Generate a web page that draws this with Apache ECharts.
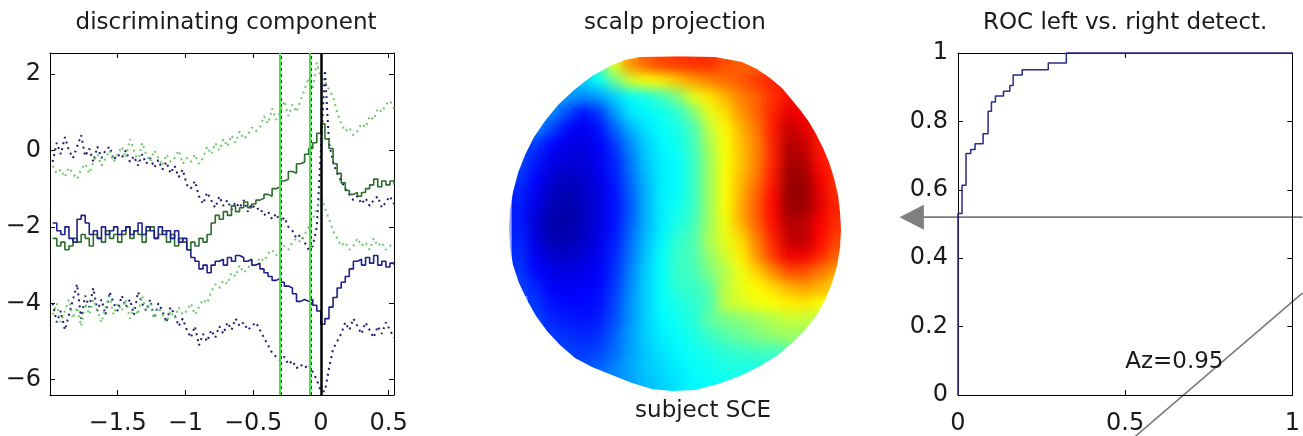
<!DOCTYPE html>
<html>
<head>
<meta charset="utf-8">
<script src="https://cdn.jsdelivr.net/npm/echarts/dist/echarts.min.js"></script>
<style>
html,body{margin:0;padding:0;background:#fff;}
#chart{position:absolute;left:0;top:0;width:1303px;height:436px;}
#scalpWrap{position:absolute;left:492px;top:37px;width:372px;height:374px;
  clip-path:polygon(148px 20px,188px 19px,223px 20px,250px 25px,265px 32px,278px 41px,290px 51px,300px 63px,309px 74px,317px 85px,324px 97px,331px 111px,337px 125px,342px 141px,346px 158px,348px 175px,349px 193px,348px 211px,345px 229px,340px 246px,333px 263px,324px 279px,313px 293px,300px 306px,286px 318px,268px 329px,248px 339px,226px 347px,203px 353px,180px 354px,160px 352px,140px 346px,120px 338px,100px 330px,83px 321px,68px 308px,55px 294px,44px 279px,35px 263px,27px 246px,21px 228px,18px 210px,17px 191px,18px 173px,21px 155px,26px 136px,33px 118px,42px 100px,53px 84px,66px 68px,82px 53px,100px 39px,118px 29px,133px 23px);}
#scalpSharp,#scalpSoft{position:absolute;left:0;top:0;width:372px;height:374px;}
#scalpSoft{filter:blur(6px);}
</style>
</head>
<body>
<div id="chart"></div>
<div id="scalpWrap"><div id="scalpSharp"></div><div id="scalpSoft"></div></div>
<script>
// ---------- left panel: discriminating component ----------
const timeAxis = [-1.98,-1.95,-1.92,-1.89,-1.86,-1.83,-1.80,-1.77,-1.74,-1.71,-1.68,-1.65,-1.62,-1.59,-1.56,-1.53,-1.50,
 -1.47,-1.44,-1.41,-1.38,-1.35,-1.32,-1.29,-1.26,-1.23,-1.20,-1.17,-1.14,-1.11,-1.08,-1.05,-1.02,-0.99,
 -0.96,-0.93,-0.90,-0.87,-0.84,-0.81,-0.78,-0.75,-0.72,-0.69,-0.66,-0.63,-0.60,-0.57,-0.54,-0.51,-0.48,
 -0.45,-0.42,-0.39,-0.36,-0.33,-0.30,-0.27,-0.24,-0.21,-0.18,-0.15,-0.12,-0.09,-0.06,-0.03,0.00,
 0.03,0.06,0.09,0.12,0.15,0.18,0.21,0.24,0.27,0.30,0.33,0.36,0.39,0.42,0.45,0.48,0.51,0.54];

const greenMean = [-2.3,-2.5,-2.4,-2.6,-2.5,-2.3,-2.4,-2.2,-2.3,-2.5,-2.2,-2.3,-2.4,-2.1,-2.3,-2.2,-2.4,
 -2.2,-2.0,-2.3,-2.1,-2.2,-2.4,-2.1,-2.0,-2.3,-2.2,-2.1,-2.4,-2.2,-2.5,-2.3,-2.4,-2.6,
 -2.4,-2.5,-2.3,-2.4,-2.2,-1.9,-1.7,-1.8,-1.6,-1.7,-1.45,-1.6,-1.5,-1.35,-1.5,-1.4,-1.3,
 -1.25,-1.15,-1.2,-1.0,-0.95,-0.8,-0.75,-0.55,-0.6,-0.35,-0.3,-0.1,0.05,0.2,0.45,0.7,
 0.3,0.05,-0.35,-0.6,-0.85,-1.05,-1.15,-1.1,-1.2,-1.1,-1.0,-0.9,-0.75,-0.95,-0.8,-0.9,-0.8,-0.9];

const blueMean = [-1.9,-2.1,-2.2,-2.0,-2.3,-2.4,-1.8,-1.7,-1.9,-2.2,-2.1,-2.3,-2.0,-2.2,-2.1,-2.0,-2.2,
 -2.1,-2.0,-2.2,-2.1,-1.9,-2.2,-2.0,-2.1,-2.3,-2.0,-2.2,-2.1,-2.3,-2.1,-2.4,-2.3,-2.6,
 -2.8,-2.9,-3.1,-3.0,-3.2,-3.0,-2.9,-2.85,-3.0,-2.8,-2.9,-2.75,-2.8,-2.9,-2.85,-3.0,-2.95,
 -3.1,-3.2,-3.3,-3.4,-3.35,-3.45,-3.55,-3.6,-3.75,-3.95,-3.9,-3.95,-3.9,-4.05,-4.2,-4.55,
 -4.4,-4.1,-3.85,-3.6,-3.45,-3.3,-3.1,-2.9,-2.85,-3.0,-2.8,-2.95,-2.75,-3.0,-2.9,-3.05,-2.95,-3.0];

const blueUpper = [-0.3,0.2,-0.1,0.35,0.0,-0.2,0.1,0.4,-0.15,0.05,-0.3,0.1,-0.2,0.0,0.1,-0.25,-0.1,
 -0.2,0.0,-0.3,-0.15,-0.4,-0.1,-0.35,-0.2,-0.45,-0.25,-0.5,-0.3,-0.6,-0.4,-0.7,-0.5,-0.9,
 -1.0,-0.8,-1.2,-1.4,-1.1,-1.3,-1.5,-1.2,-1.45,-1.3,-1.55,-1.35,-1.5,-1.3,-1.6,-1.4,-1.55,
 -1.5,-1.7,-1.6,-1.8,-1.65,-1.9,-1.75,-2.0,-2.1,-2.3,-2.2,-2.4,-2.6,-2.5,-2.0,0.0,
 2.1,0.2,-0.3,-0.6,-0.8,-1.0,-1.15,-1.3,-1.2,-1.4,-1.25,-1.45,-1.3,-1.2,-1.5,-1.35,-1.2,-1.4];

const blueLower = [-4.0,-4.5,-4.2,-4.7,-4.3,-3.9,-3.5,-4.4,-3.8,-4.1,-3.6,-4.2,-3.9,-4.3,-3.7,-4.0,-4.2,
 -3.8,-4.1,-3.9,-4.3,-3.7,-4.0,-4.2,-3.9,-4.4,-4.0,-4.2,-4.5,-4.1,-4.3,-4.6,-4.4,-4.7,
 -4.9,-4.6,-5.1,-4.8,-5.0,-4.7,-4.9,-4.6,-4.8,-4.5,-4.7,-4.4,-4.6,-4.5,-4.7,-4.6,-4.5,
 -4.7,-4.9,-5.1,-5.3,-5.4,-5.5,-5.4,-5.6,-5.5,-5.7,-5.6,-5.7,-5.6,-5.8,-6.0,-6.3,
 -6.3,-5.7,-5.2,-5.0,-4.8,-4.5,-4.7,-4.4,-4.6,-4.8,-4.5,-4.7,-4.9,-4.6,-4.8,-4.5,-4.7,-4.9];

const greenUpper = [-0.4,-0.6,-0.5,-0.7,-0.45,-0.6,-0.75,-0.5,-0.35,-0.6,-0.3,-0.1,-0.4,-0.2,0.0,-0.3,-0.1,
 0.1,-0.2,0.3,0.0,-0.3,0.2,-0.1,-0.3,0.0,-0.2,-0.4,-0.1,-0.3,-0.2,0.0,-0.35,-0.2,
 -0.3,-0.1,-0.35,-0.2,0.1,-0.1,0.2,0.0,0.3,0.1,0.4,0.2,0.5,0.3,0.4,0.6,0.5,
 0.6,0.9,0.7,1.1,0.8,1.0,1.3,0.9,1.2,1.0,1.3,1.6,1.9,1.6,2.3,1.9,
 1.8,1.6,1.4,1.0,0.7,0.5,0.6,0.4,0.5,0.7,0.6,0.9,0.8,1.1,1.0,1.2,1.3,1.1];

const greenLower = [-4.3,-4.0,-4.5,-4.2,-3.9,-4.4,-4.1,-4.6,-4.0,-4.3,-3.9,-4.2,-4.5,-4.1,-3.8,-4.3,-4.0,
 -4.2,-3.9,-4.4,-4.1,-4.3,-3.8,-4.2,-4.0,-4.4,-4.1,-4.3,-4.5,-4.2,-4.4,-4.1,-4.3,-4.2,
 -4.0,-4.3,-4.1,-3.9,-4.0,-3.7,-3.5,-3.6,-3.4,-3.5,-3.2,-3.3,-3.0,-3.2,-3.1,-2.9,-3.0,
 -2.8,-2.9,-2.7,-2.6,-2.75,-2.6,-2.5,-2.6,-2.4,-2.3,-2.4,-2.2,-2.0,-1.8,-1.5,-1.2,
 -1.5,-1.8,-2.1,-2.3,-2.5,-2.4,-2.6,-2.5,-2.3,-2.5,-2.4,-2.6,-2.3,-2.5,-2.4,-2.6,-2.5,-2.4];

const windowMarks = [-0.3, -0.08];   // green vertical lines
const eventMark = 0;                 // black vertical line

// ---------- middle panel: scalp projection (jet scale 0..10) ----------
const _ = null;
const scalpRows = [
 [_,_,_,_,_,4.5,6.0,7.3,7.8,8.1,8.2,8.3,8.3,8.0,7.8,7.8,_,_,_,_,_],
 [_,_,_,3.0,3.3,3.8,4.8,5.8,6.2,6.4,6.8,7.2,7.5,7.7,7.9,8.2,8.4,8.6,_,_,_],
 [_,_,2.8,2.8,2.6,2.8,3.3,3.8,4.0,4.4,5.0,6.0,6.5,7.0,7.5,7.8,8.3,8.6,_,_,_],
 [_,2.6,2.6,2.0,1.4,1.8,2.8,3.5,3.7,3.9,4.2,5.0,6.0,6.6,7.3,7.8,8.4,9.0,8.8,_,_],
 [_,2.6,2.0,1.3,1.1,1.4,2.2,3.0,3.5,3.8,4.0,4.5,5.6,6.3,7.0,7.6,8.5,9.3,9.0,8.5,_],
 [2.0,1.8,1.3,1.0,0.9,1.2,1.8,2.6,3.3,3.7,3.9,4.4,5.4,6.2,6.9,7.5,8.4,9.5,9.3,8.5,_],
 [2.0,1.5,1.0,0.8,0.8,1.1,1.6,2.4,3.2,3.6,3.8,4.3,5.3,6.2,6.8,7.5,8.4,9.6,9.5,8.6,8.2],
 [1.8,1.3,0.8,0.6,0.7,1.0,1.5,2.3,3.1,3.6,3.8,4.3,5.3,6.2,6.9,7.6,8.5,9.7,9.7,8.8,8.3],
 [1.6,1.1,0.6,0.4,0.6,0.9,1.4,2.2,3.0,3.6,3.8,4.3,5.3,6.2,7.0,7.8,8.6,9.8,9.8,9.0,8.3],
 [1.5,0.9,0.4,0.3,0.5,0.9,1.4,2.1,3.0,3.6,3.9,4.3,5.3,6.2,7.1,7.9,8.7,9.7,9.7,9.0,8.4],
 [1.5,0.8,0.3,0.3,0.5,0.9,1.4,2.2,3.0,3.6,4.0,4.4,5.3,6.1,7.0,7.8,8.6,9.5,9.4,8.8,8.3],
 [1.6,0.9,0.4,0.4,0.6,1.0,1.5,2.3,3.1,3.7,4.2,4.5,5.4,6.0,6.6,7.5,8.4,9.3,9.4,8.7,8.1],
 [1.7,1.1,0.7,0.6,0.8,1.1,1.6,2.4,3.2,3.8,4.3,4.5,5.2,5.8,6.4,7.3,8.2,8.9,8.9,8.4,7.8],
 [1.8,1.3,1.0,0.9,1.0,1.2,1.7,2.5,3.3,3.8,4.3,4.4,5.0,5.5,6.1,6.7,7.4,8.0,8.0,7.6,7.2],
 [1.9,1.6,1.2,1.1,1.2,1.3,1.8,2.6,3.3,3.8,4.2,4.3,4.6,5.6,6.0,6.3,6.6,7.0,7.2,7.0,6.6],
 [_,1.8,1.4,1.3,1.3,1.4,1.9,2.7,3.3,3.8,4.0,4.2,4.5,5.6,5.9,6.1,6.2,6.4,6.5,6.2,_],
 [_,1.9,1.6,1.5,1.4,1.5,2.0,2.7,3.3,3.7,3.9,4.1,4.7,4.9,5.1,5.3,5.5,5.7,5.7,5.5,_],
 [_,_,1.8,1.7,1.6,1.7,2.2,2.8,3.3,3.6,3.8,4.0,4.3,4.6,4.8,5.0,5.2,5.3,5.2,_,_],
 [_,_,1.9,1.9,1.8,1.9,2.3,2.8,3.2,3.5,3.7,3.9,4.0,4.2,4.3,4.4,4.4,4.6,_,_,_],
 [_,_,_,_,2.0,2.2,2.5,2.9,3.2,3.4,3.6,3.8,3.9,4.0,4.0,4.0,4.1,_,_,_,_],
 [_,_,_,_,_,_,2.6,2.8,3.1,3.3,3.5,3.7,3.8,3.9,4.0,_,_,_,_,_,_]
];

// ---------- right panel: ROC ----------
const rocFpr = [0, 0, 0.012, 0.024, 0.038, 0.051, 0.075, 0.09, 0.10, 0.112, 0.136, 0.155, 0.165, 0.192, 0.27, 0.324, 1];
const rocTpr = [0, 0.531, 0.613, 0.706, 0.718, 0.735, 0.764, 0.83, 0.857, 0.874, 0.888, 0.905, 0.936, 0.951, 0.971, 1.0, 1.0];
const azText = 'Az=0.95';
const azAnchor = [0.5, 0.095];
const arrowLevel = 0.52;             // grey pointer arrow (ROC y units)
const arrowX = [-0.175, -0.102, 1.03];
const pointerLine = [[0.51, -0.138], [1.03, 0.298]];

// ---------- build ----------
const FONT = 'DejaVu Sans';
const TXT = '#1a1a1a';
const minus = v => String(v).replace('-', '\u2212');
const pairs = arr => timeAxis.map((t, k) => [t, arr[k]]);

const tickStyle = {show: true, inside: true, length: 5, lineStyle: {color: '#000', width: 1}};
const lineStyle = {show: true, onZero: false, lineStyle: {color: '#000', width: 1}};
const labelStyle = {fontFamily: FONT, fontSize: 24, color: TXT};

function valAxis(o) {
  return Object.assign({type: 'value', axisLine: lineStyle, axisTick: tickStyle, splitLine: {show: false}}, o);
}

const leftX = {gridIndex: 0, min: -2, max: 0.54, interval: 0.5};
const leftY = {gridIndex: 0, min: -6.4, max: 2.55, minInterval: 2, maxInterval: 2, splitNumber: 5};
const rocX = {gridIndex: 1, min: 0, max: 1, interval: 0.5};
const rocY = {gridIndex: 1, min: 0, max: 1, interval: 0.2};

const dotted = (name, data, color) => ({
  name, type: 'line', xAxisIndex: 0, yAxisIndex: 0, data: pairs(data), showSymbol: false, silent: true,
  lineStyle: {color, width: 2, type: [2, 4], cap: 'butt'}
});

const option = {
  animation: false,
  backgroundColor: '#ffffff',
  grid: [
    {left: 50, top: 53, width: 344, height: 342},
    {left: 958, top: 53, width: 341, height: 342}
  ],
  xAxis: [
    valAxis(Object.assign({}, leftX, {position: 'bottom', axisLabel: Object.assign({margin: 17, formatter: v => (v > -1.99 && v < 0.51 && Math.abs(v * 2 - Math.round(v * 2)) < 1e-6) ? minus(Math.round(v * 2) / 2) : ''}, labelStyle)})),
    valAxis(Object.assign({}, leftX, {position: 'top', axisLabel: {show: false}})),
    valAxis(Object.assign({}, rocX, {position: 'bottom', axisLabel: Object.assign({margin: 17}, labelStyle)})),
    valAxis(Object.assign({}, rocX, {position: 'top', axisLabel: {show: false}}))
  ],
  yAxis: [
    valAxis(Object.assign({}, leftY, {position: 'left', axisLabel: Object.assign({margin: 9, formatter: v => (Math.abs(v - Math.round(v)) < 1e-6 && Math.round(v) % 2 === 0) ? minus(Math.round(v)) : ''}, labelStyle)})),
    valAxis(Object.assign({}, leftY, {position: 'right', axisLabel: {show: false}})),
    valAxis(Object.assign({}, rocY, {position: 'left', axisLabel: Object.assign({margin: 10}, labelStyle)})),
    valAxis(Object.assign({}, rocY, {position: 'right', axisLabel: {show: false}}))
  ],
  series: [
    dotted('blue upper', blueUpper, '#1c1c78'),
    dotted('blue lower', blueLower, '#1c1c78'),
    dotted('green upper', greenUpper, '#6acb6a'),
    dotted('green lower', greenLower, '#6acb6a'),
    {name: 'green mean', type: 'line', xAxisIndex: 0, yAxisIndex: 0, data: pairs(greenMean), step: 'end',
     showSymbol: false, silent: true, lineStyle: {color: '#2b6e2b', width: 1.6}},
    {name: 'blue mean', type: 'line', xAxisIndex: 0, yAxisIndex: 0, data: pairs(blueMean), step: 'end',
     showSymbol: false, silent: true, lineStyle: {color: '#1f1f8c', width: 1.6},
     markLine: {
       silent: true, symbol: 'none', label: {show: false},
       data: [
         {xAxis: windowMarks[0] + 0.011, lineStyle: {color: '#333', width: 1, type: [3, 3]}},
         {xAxis: windowMarks[1] + 0.011, lineStyle: {color: '#333', width: 1, type: [3, 3]}},
         {xAxis: windowMarks[0], lineStyle: {color: '#3ee63e', width: 2, type: 'solid'}},
         {xAxis: windowMarks[1], lineStyle: {color: '#3ee63e', width: 2, type: 'solid'}},
         {xAxis: eventMark, lineStyle: {color: '#000', width: 2.5, type: 'solid'}}
       ]
     }},
    {name: 'ROC', type: 'line', xAxisIndex: 2, yAxisIndex: 2, data: rocFpr.map((f, k) => [f, rocTpr[k]]),
     step: 'end', showSymbol: false, silent: true, clip: false, lineStyle: {color: '#2a2a8c', width: 1.5},
     markPoint: {silent: true, symbol: 'circle', symbolSize: 0,
       data: [{coord: azAnchor, label: {show: true, position: 'right', distance: 0, formatter: azText,
         fontFamily: FONT, fontSize: 23, color: TXT}}]}}
  ]
};

const chart = echarts.init(document.getElementById('chart'), null, {renderer: 'canvas'});
chart.setOption(option);

// scalp map: same heatmap drawn twice (sharp backing + softened copy), masked to the head outline by CSS
const heatData = [];
scalpRows.forEach((row, j) => row.forEach((v, i) => { if (v !== null) heatData.push([i, j, v]); }));
const colIdx = scalpRows[0].map((_, i) => i);
const rowIdx = scalpRows.map((_, j) => j);
const scalpOption = {
  animation: false,
  grid: {left: 20, top: 20, width: 332, height: 334},
  xAxis: {type: 'category', data: colIdx, show: false},
  yAxis: {type: 'category', data: rowIdx, inverse: true, show: false},
  visualMap: {type: 'continuous', show: false, min: 0, max: 10,
    inRange: {color: ['#00008f', '#0000ff', '#0080ff', '#00ffff', '#80ff80', '#ffff00', '#ff8000', '#ff0000', '#800000']}},
  series: [{type: 'heatmap', data: heatData, silent: true, itemStyle: {borderWidth: 0}, emphasis: {disabled: true}, progressive: 0}]
};
echarts.init(document.getElementById('scalpSharp')).setOption(scalpOption);
echarts.init(document.getElementById('scalpSoft')).setOption(scalpOption);

const P = p => chart.convertToPixel({gridIndex: 1}, p);
const tip = P([arrowX[0], arrowLevel]);
const base = P([arrowX[1], arrowLevel]);
const end = P([arrowX[2], arrowLevel]);
const half = 12.5;
const d0 = P(pointerLine[0]), d1 = P(pointerLine[1]);
const titleStyle = (text, x, y) => ({type: 'text', x, y, silent: true,
  style: {text, fontFamily: FONT, fontSize: 23, fill: TXT, textAlign: 'center', textVerticalAlign: 'middle'}});
const cL = chart.convertToPixel({gridIndex: 0}, [-0.73, 2.55]);
const cR = chart.convertToPixel({gridIndex: 1}, [0.5, 1]);
chart.setOption({
  graphic: [
    titleStyle('discriminating component', cL[0] + 4, 23),
    titleStyle('scalp projection', 675, 23),
    titleStyle('ROC left vs. right detect.', cR[0], 23),
    titleStyle('subject SCE', 703, 411),
    {type: 'line', silent: true, shape: {x1: base[0], y1: base[1], x2: end[0], y2: end[1]},
     style: {stroke: '#7a7a7a', lineWidth: 1.6}},
    {type: 'polygon', silent: true, shape: {points: [[tip[0], tip[1]], [base[0], base[1] - half], [base[0], base[1] + half]]},
     style: {fill: '#7f7f7f'}},
    {type: 'line', silent: true, shape: {x1: d0[0], y1: d0[1], x2: d1[0], y2: d1[1]},
     style: {stroke: '#7a7a7a', lineWidth: 1.6}}
  ]
});
</script>
</body>
</html>
